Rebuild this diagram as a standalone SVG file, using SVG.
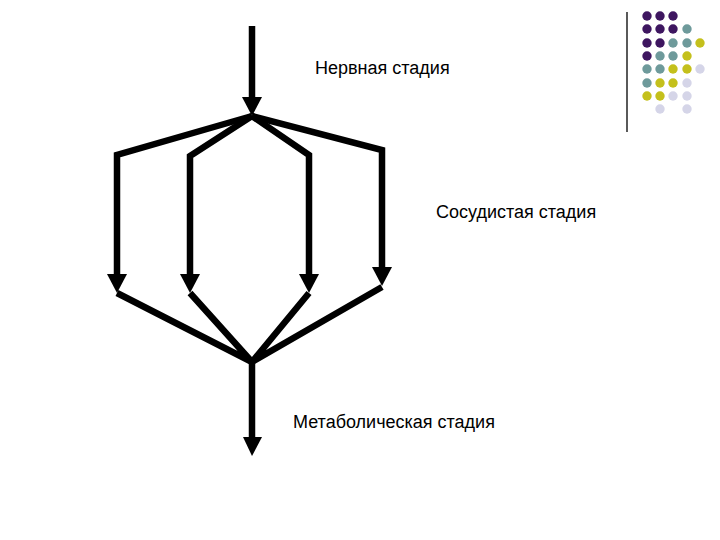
<svg xmlns="http://www.w3.org/2000/svg" width="720" height="540" viewBox="0 0 720 540">
<style>
.ln{fill:none;stroke:#000;stroke-width:6.5;stroke-linejoin:miter;stroke-linecap:butt}
.hd{fill:#000}
.t{font-family:"Liberation Sans",Arial,sans-serif;font-size:18px;fill:#000}
.p{fill:#3e1660}.c{fill:#6e9a9b}.y{fill:#c4c01c}.l{fill:#d5d5e8}
</style>
<rect width="720" height="540" fill="#fff"/>
<g id="decor">
<line x1="627" y1="12" x2="627" y2="132" stroke="#000" stroke-width="1.3"/>
<circle class="p" cx="647" cy="16" r="4.7"/><circle class="p" cx="660" cy="16" r="4.7"/><circle class="p" cx="673" cy="16" r="4.7"/>
<circle class="p" cx="647" cy="29" r="4.7"/><circle class="p" cx="660" cy="29" r="4.7"/><circle class="p" cx="673" cy="29" r="4.7"/><circle class="c" cx="687" cy="29" r="4.7"/>
<circle class="p" cx="647" cy="43" r="4.7"/><circle class="p" cx="660" cy="43" r="4.7"/><circle class="c" cx="673" cy="43" r="4.7"/><circle class="c" cx="687" cy="43" r="4.7"/><circle class="y" cx="700" cy="43" r="4.7"/>
<circle class="p" cx="647" cy="56" r="4.7"/><circle class="c" cx="660" cy="56" r="4.7"/><circle class="c" cx="673" cy="56" r="4.7"/><circle class="y" cx="687" cy="56" r="4.7"/>
<circle class="c" cx="647" cy="69" r="4.7"/><circle class="c" cx="660" cy="69" r="4.7"/><circle class="y" cx="673" cy="69" r="4.7"/><circle class="y" cx="687" cy="69" r="4.7"/><circle class="l" cx="700" cy="69" r="4.7"/>
<circle class="c" cx="647" cy="83" r="4.7"/><circle class="y" cx="660" cy="83" r="4.7"/><circle class="y" cx="673" cy="83" r="4.7"/><circle class="l" cx="687" cy="83" r="4.7"/>
<circle class="y" cx="647" cy="96" r="4.7"/><circle class="y" cx="660" cy="96" r="4.7"/><circle class="l" cx="673" cy="96" r="4.7"/><circle class="l" cx="687" cy="96" r="4.7"/>
<circle class="l" cx="660" cy="109" r="4.7"/><circle class="l" cx="687" cy="109" r="4.7"/>
</g>
<g id="connectors">
<line class="ln" x1="252" y1="26" x2="252" y2="100"/>
<polygon class="hd" points="242,97 262,97 252,116"/>
<polyline class="ln" points="252,116 117,155 117,275"/>
<polyline class="ln" points="252,116 190,156 190,275"/>
<polyline class="ln" points="252,116 309,155 309,275"/>
<polyline class="ln" points="252,116 382,150 382,268"/>
<polygon class="hd" points="107,274 127,274 117,293"/>
<polygon class="hd" points="180,274 200,274 190,293"/>
<polygon class="hd" points="299,274 319,274 309,293"/>
<polygon class="hd" points="372,267 392,267 382,286"/>
<polyline class="ln" points="117,293 252,362 190,293"/>
<polyline class="ln" points="309,293 252,362 382,287"/>
<line class="ln" x1="252" y1="362" x2="252" y2="440"/>
<polygon class="hd" points="243,437 262,437 252,456"/>
</g>
<g id="n1"><text class="t" x="315" y="74">Нервная стадия</text></g>
<g id="n2"><text class="t" x="436" y="218">Сосудистая стадия</text></g>
<g id="n3"><text class="t" x="293" y="428">Метаболическая стадия</text></g>
</svg>
